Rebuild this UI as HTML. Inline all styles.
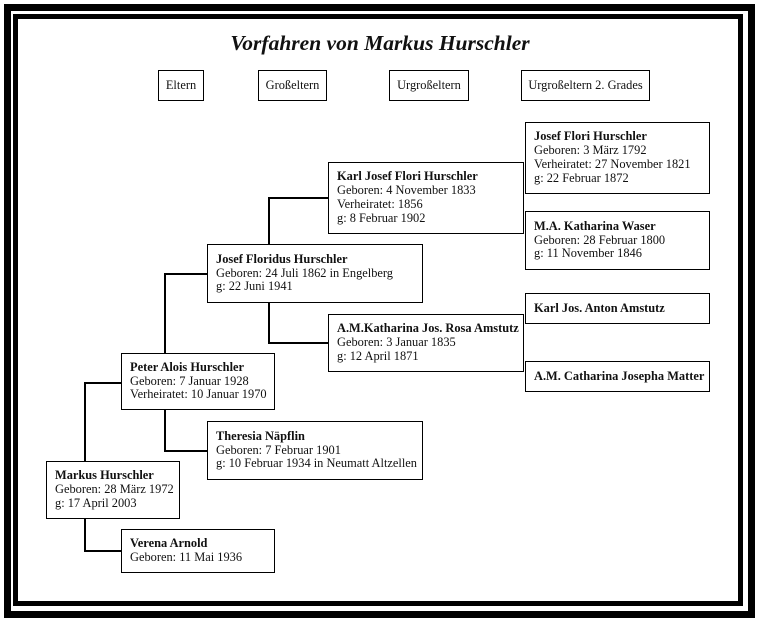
<!DOCTYPE html>
<html><head><meta charset="utf-8"><style>
body{margin:0;width:760px;height:627px;background:#fff;position:relative;overflow:hidden;font-family:"Liberation Serif",serif;color:#111}
.f1{position:absolute;left:4px;top:4px;width:737px;height:600px;border:7px solid #000}
.f2{position:absolute;left:13px;top:14px;width:720px;height:582px;border:5px solid #000}
.b{position:absolute;border:1.5px solid #000;background:#fff;box-sizing:border-box;font-size:12.4px;line-height:13.8px;padding:0 0 0 8px;display:flex;flex-direction:column;justify-content:center;white-space:nowrap}
.b b{font-weight:bold}
.h{justify-content:center;align-items:center;padding:0}
.l{position:absolute;background:#000}
.t{position:absolute;left:0;width:760px;top:31px;text-align:center;font-size:21.5px;font-weight:bold;font-style:italic}
</style></head><body>
<div class="f1"></div><div class="f2"></div>
<div class="t">Vorfahren von Markus Hurschler</div>
<div class="b h" style="left:158px;top:70px;width:46px;height:31px">Eltern</div>
<div class="b h" style="left:258px;top:70px;width:69px;height:31px">Großeltern</div>
<div class="b h" style="left:389px;top:70px;width:80px;height:31px">Urgroßeltern</div>
<div class="b h" style="left:521px;top:70px;width:129px;height:31px">Urgroßeltern 2. Grades</div>

<div class="l" style="left:268px;top:197px;width:60px;height:1.5px"></div>
<div class="l" style="left:268px;top:197px;width:1.5px;height:48px"></div>
<div class="l" style="left:268px;top:302px;width:1.5px;height:41px"></div>
<div class="l" style="left:268px;top:342px;width:60px;height:1.5px"></div>
<div class="l" style="left:164px;top:273px;width:44px;height:1.5px"></div>
<div class="l" style="left:164px;top:273px;width:1.5px;height:80px"></div>
<div class="l" style="left:164px;top:409px;width:1.5px;height:41px"></div>
<div class="l" style="left:164px;top:450px;width:44px;height:1.5px"></div>
<div class="l" style="left:84px;top:382px;width:37px;height:1.5px"></div>
<div class="l" style="left:84px;top:382px;width:1.5px;height:79px"></div>
<div class="l" style="left:84px;top:517px;width:1.5px;height:34px"></div>
<div class="l" style="left:84px;top:550px;width:37px;height:1.5px"></div>

<div class="b" style="left:525px;top:122px;width:185px;height:72px"><b>Josef Flori Hurschler</b><span>Geboren: 3 März 1792</span><span>Verheiratet: 27 November 1821</span><span>g: 22 Februar 1872</span></div>
<div class="b" style="left:328px;top:162px;width:196px;height:72px"><b>Karl Josef Flori Hurschler</b><span>Geboren: 4 November 1833</span><span>Verheiratet: 1856</span><span>g: 8 Februar 1902</span></div>
<div class="b" style="left:525px;top:211px;width:185px;height:59px"><b>M.A. Katharina Waser</b><span>Geboren: 28 Februar 1800</span><span>g: 11 November 1846</span></div>
<div class="b" style="left:207px;top:244px;width:216px;height:59px"><b>Josef Floridus Hurschler</b><span>Geboren: 24 Juli 1862 in Engelberg</span><span>g: 22 Juni 1941</span></div>
<div class="b" style="left:525px;top:293px;width:185px;height:31px"><b>Karl Jos. Anton Amstutz</b></div>
<div class="b" style="left:328px;top:314px;width:196px;height:58px"><b>A.M.Katharina Jos. Rosa Amstutz</b><span>Geboren: 3 Januar 1835</span><span>g: 12 April 1871</span></div>
<div class="b" style="left:525px;top:361px;width:185px;height:31px"><b>A.M. Catharina Josepha Matter</b></div>
<div class="b" style="left:121px;top:353px;width:154px;height:57px"><b>Peter Alois Hurschler</b><span>Geboren: 7 Januar 1928</span><span>Verheiratet: 10 Januar 1970</span></div>
<div class="b" style="left:207px;top:421px;width:216px;height:59px"><b>Theresia Näpflin</b><span>Geboren: 7 Februar 1901</span><span>g: 10 Februar 1934 in Neumatt Altzellen</span></div>
<div class="b" style="left:46px;top:461px;width:134px;height:58px"><b>Markus Hurschler</b><span>Geboren: 28 März 1972</span><span>g: 17 April 2003</span></div>
<div class="b" style="left:121px;top:529px;width:154px;height:44px"><b>Verena Arnold</b><span>Geboren: 11 Mai 1936</span></div>
</body></html>
